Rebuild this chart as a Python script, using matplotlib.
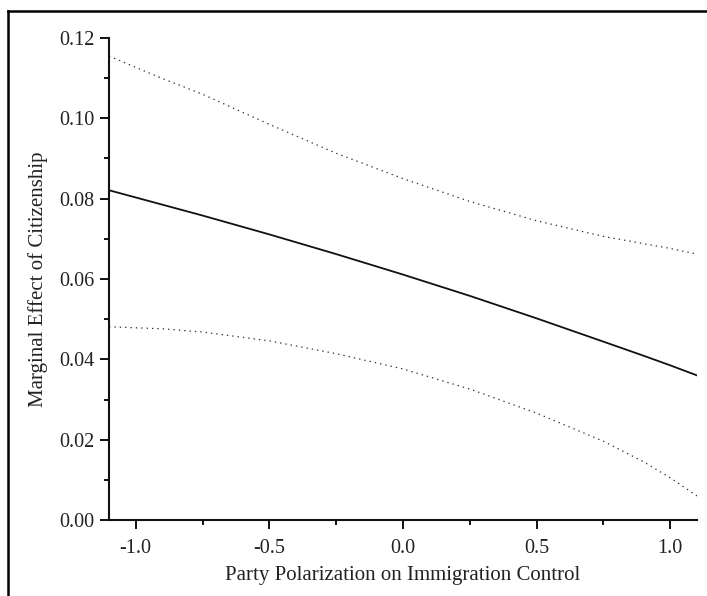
import matplotlib
matplotlib.use("Agg")
import matplotlib.pyplot as plt
from matplotlib.lines import Line2D
from matplotlib.ticker import MultipleLocator, FormatStrFormatter

# values
polarization = [-1.1, -0.9, -0.75, -0.5, -0.25, 0.0, 0.25, 0.5, 0.75, 0.9, 1.0, 1.1]
effect = [0.0821, 0.0785, 0.0758, 0.0711, 0.0662, 0.0611, 0.0558, 0.0502, 0.0444, 0.0409, 0.0385, 0.0360]
upper = [0.1155, 0.1099, 0.1060, 0.0985, 0.0913, 0.0850, 0.0793, 0.0745, 0.0706, 0.0688, 0.0676, 0.0662]
lower = [0.0481, 0.0476, 0.0468, 0.0446, 0.0414, 0.0376, 0.0326, 0.0266, 0.0196, 0.0145, 0.0105, 0.0060]

plt.rcParams['font.family'] = ['Liberation Serif', 'DejaVu Serif']
txt = '#222222'

fig = plt.figure(figsize=(7.07, 5.96), dpi=100)
ax = fig.add_axes([109/707, 1-520/596, (697-109)/707, (520-38)/596])

ax.plot(polarization, effect, color='#111111', lw=1.3)
ax.plot(polarization, upper, color='#333333', lw=0.9, linestyle=(0, (1.1, 3.2)))
ax.plot(polarization, lower, color='#333333', lw=0.9, linestyle=(0, (1.1, 3.2)))

ax.set_xlim(-1.1, 1.1)
ax.set_ylim(0, 0.12)
ax.xaxis.set_major_locator(MultipleLocator(0.5))
ax.xaxis.set_minor_locator(MultipleLocator(0.25))
ax.yaxis.set_major_locator(MultipleLocator(0.02))
ax.yaxis.set_minor_locator(MultipleLocator(0.01))
ax.xaxis.set_major_formatter(FormatStrFormatter('%.1f'))
ax.yaxis.set_major_formatter(FormatStrFormatter('%.2f'))

for s in ['top', 'right']:
    ax.spines[s].set_visible(False)
for s in ['left', 'bottom']:
    ax.spines[s].set_linewidth(1.5)
    ax.spines[s].set_color('#111111')

ax.tick_params(which='major', direction='out', length=6.5, width=1.4, color='#111111',
               labelsize=14.5, labelcolor=txt)
ax.tick_params(axis='x', which='major', pad=7)
ax.tick_params(axis='y', which='major', pad=4)
ax.tick_params(which='minor', direction='out', length=3.6, width=1.4, color='#111111')

ax.set_xlabel('Party Polarization on Immigration Control', fontsize=15, color=txt, labelpad=6)
ax.set_ylabel('Marginal Effect of Citizenship', fontsize=15, color=txt, labelpad=8)

# partial outer frame (top and left edges)
x0 = 7.5/707
y0 = 1 - 10.5/596
fig.add_artist(Line2D([x0, x0], [0, y0], color='black', lw=1.8, transform=fig.transFigure))
fig.add_artist(Line2D([x0, 1], [y0, y0], color='black', lw=1.8, transform=fig.transFigure))

fig.savefig('out.png', dpi=100)
